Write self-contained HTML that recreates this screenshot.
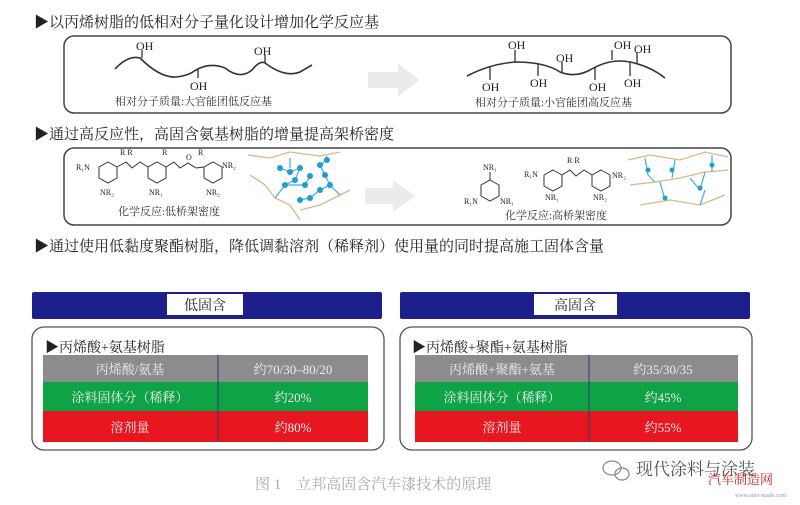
<!DOCTYPE html>
<html><head><meta charset="utf-8"><style>
html,body{margin:0;padding:0;background:#fff;}
svg{display:block}
text{font-family:"Liberation Serif","Noto Serif CJK SC",serif;}
</style></head><body>
<svg width="800" height="505" viewBox="0 0 800 505" xmlns="http://www.w3.org/2000/svg">
<rect width="800" height="505" fill="#fff"/>
<text x="34" y="27" font-size="15" fill="#222">▶以丙烯树脂的低相对分子量化设计增加化学反应基</text>
<text x="34" y="139" font-size="15" fill="#222">▶通过高反应性，高固含氨基树脂的增量提高架桥密度</text>
<text x="34" y="251" font-size="15" fill="#222">▶通过使用低黏度聚酯树脂，降低调黏溶剂（稀释剂）使用量的同时提高施工固体含量</text>

<rect x="64" y="36" width="667" height="77" rx="10" fill="#fff" stroke="#444" stroke-width="1.5"/>
<path d="M115,69 Q128,55 140,58 Q160,78 176,77 Q188,76 196,70 Q210,62 225,68 Q240,80 252,70 Q260,60 265,63 Q285,78 300,72 L312,65" fill="none" stroke="#333" stroke-width="1.6"/>
<line x1="142" y1="58" x2="142" y2="50" stroke="#333" stroke-width="1.3"/>
<line x1="265" y1="63" x2="265" y2="55" stroke="#333" stroke-width="1.3"/>
<line x1="198" y1="69" x2="198" y2="78" stroke="#333" stroke-width="1.3"/>
<g font-size="12" fill="#222">
<text x="136" y="50">OH</text><text x="254" y="55">OH</text><text x="190" y="90">OH</text>
</g>
<text x="115" y="105" font-size="11" fill="#333">相对分子质量:大官能团低反应基</text>
<polygon points="368,72 398,72 398,64 420,80 398,96 398,88 368,88" fill="#ebebeb"/>
<path d="M467,76 Q490,64 515,62 Q545,62 560,72 Q575,78 590,70 Q610,58 630,62 Q650,66 665,78" fill="none" stroke="#333" stroke-width="1.6"/>
<g stroke="#333" stroke-width="1.3">
<line x1="515" y1="62" x2="515" y2="50"/><line x1="562" y1="73" x2="562" y2="62"/><line x1="612" y1="60" x2="612" y2="50"/><line x1="637" y1="63" x2="637" y2="52"/>
<line x1="490" y1="67" x2="490" y2="80"/><line x1="538" y1="63" x2="538" y2="76"/><line x1="595" y1="67" x2="595" y2="80"/><line x1="630" y1="62" x2="630" y2="76"/>
</g>
<g font-size="12" fill="#222">
<text x="508" y="49">OH</text><text x="556" y="62">OH</text><text x="614" y="49">OH</text><text x="634" y="53">OH</text>
<text x="482" y="91">OH</text><text x="530" y="87">OH</text><text x="589" y="91">OH</text><text x="624" y="87">OH</text>
</g>
<text x="475" y="106" font-size="11" fill="#333">相对分子质量:小官能团高反应基</text>

<rect x="64" y="148" width="667" height="77" rx="10" fill="#fff" stroke="#444" stroke-width="1.5"/>
<g fill="none" stroke="#333" stroke-width="1">
<polygon points="108,162 117,167 117,178 108,183 99,178 99,167"/>
<polygon points="157,162 166,167 166,178 157,183 148,178 148,167"/>
<polygon points="213,162 222,167 222,178 213,183 204,178 204,167"/>
<polyline points="117,167 126,162 132,168 140,162 148,167"/>
<polyline points="166,167 174,162 180,168 188,163 196,168 204,167"/>
<polygon points="490,180 499,185 499,196 490,201 481,196 481,185"/>
<polygon points="553,170 562,175 562,186 553,191 544,186 544,175"/>
<polygon points="601,170 610,175 610,186 601,191 592,186 592,175"/>
<polyline points="562,175 570,170 576,176 584,170 592,175"/>
<line x1="490" y1="180" x2="490" y2="172"/>
</g>
<g font-size="8" fill="#222">
<text x="76" y="170">R₁N</text><text x="222" y="168">NR₂</text>
<text x="100" y="195">NR₂</text><text x="149" y="195">NR₁</text><text x="206" y="195">NR₂</text>
<text x="120" y="155">R R</text><text x="162" y="155">R</text><text x="186" y="160">O</text><text x="198" y="155">R</text>
<text x="483" y="170">NR₁</text><text x="464" y="204">R₁N</text><text x="500" y="204">NR₁</text>
<text x="524" y="177">R₁N</text><text x="612" y="178">NR₂</text><text x="545" y="200">NR₁</text><text x="593" y="200">NR₂</text>
<text x="567" y="163">R R</text>
</g>
<text x="118" y="215" font-size="11" fill="#333">化学反应:低桥架密度</text>
<text x="505" y="219" font-size="11" fill="#333">化学反应:高桥架密度</text>
<polygon points="365,188 393,188 393,180 415,196 393,212 393,204 365,204" fill="#ebebeb"/>
<g fill="none" stroke="#d6b88c" stroke-width="1.3">
<path d="M248,155 L270,158 L290,152 L320,156 L340,152"/>
<path d="M250,175 L265,185 L275,198 L290,205 L300,220"/>
<path d="M300,210 L320,205 L340,195 L350,190"/>
<path d="M628,160 L650,155 L680,160 L705,152 L728,157"/>
<path d="M630,185 L655,182 L680,178 L705,172 L728,170"/>
<path d="M640,205 L670,200 L700,205 L725,195"/>
</g>
<g stroke="#3bb0d8" stroke-width="1.2" fill="none">
<path d="M280,168 L290,172 L300,168 L295,180 L285,185 L305,185 L310,176"/>
<path d="M320,165 L325,175 L330,185 L320,190 L310,198 L300,200"/>
<path d="M290,158 L290,168 M327,156 L322,165 M275,198 L285,185 M330,185 L340,195"/>
<path d="M645,158 L648,175 L655,182 M675,160 L672,178 M690,178 L700,190 L705,172 M700,205 L705,190 M660,182 L665,200 M712,155 L712,172"/>
</g>
<g fill="#1e9ed2">
<circle cx="280" cy="168" r="3"/><circle cx="290" cy="172" r="3"/><circle cx="300" cy="168" r="3"/><circle cx="295" cy="180" r="3"/><circle cx="285" cy="185" r="3"/><circle cx="305" cy="185" r="3"/><circle cx="310" cy="176" r="3"/>
<circle cx="320" cy="165" r="3"/><circle cx="325" cy="175" r="3"/><circle cx="330" cy="185" r="3"/><circle cx="320" cy="190" r="3"/><circle cx="310" cy="198" r="3"/><circle cx="300" cy="200" r="3"/><circle cx="327" cy="160" r="3"/>
<circle cx="648" cy="170" r="2.5"/><circle cx="672" cy="170" r="2.5"/><circle cx="700" cy="188" r="2.5"/><circle cx="665" cy="198" r="2.5"/><circle cx="712" cy="165" r="2.5"/>
</g>

<rect x="32" y="292" width="350" height="27" rx="2" fill="#1c1f8c"/>
<rect x="167" y="294" width="76" height="21" fill="#fff"/>
<text x="205" y="310" font-size="14" fill="#222" text-anchor="middle">低固含</text>
<rect x="400" y="292" width="350" height="27" rx="2" fill="#1c1f8c"/>
<rect x="534" y="294" width="83" height="21" fill="#fff"/>
<text x="575" y="310" font-size="14" fill="#222" text-anchor="middle">高固含</text>

<rect x="32" y="327" width="352" height="123" rx="12" fill="#fff" stroke="#555" stroke-width="1.3"/>
<rect x="400" y="327" width="352" height="123" rx="12" fill="#fff" stroke="#555" stroke-width="1.3"/>
<text x="45" y="352" font-size="14" fill="#222">▶丙烯酸+氨基树脂</text>
<text x="412" y="352" font-size="14" fill="#222">▶丙烯酸+聚酯+氨基树脂</text>

<g font-size="13" text-anchor="middle">
<rect x="43" y="355" width="325" height="27" fill="#8c8c8c"/>
<rect x="43" y="382" width="325" height="29" fill="#0ea446"/>
<rect x="43" y="411" width="325" height="31" fill="#e8161e"/>
<line x1="218" y1="355" x2="218" y2="442" stroke="#2a3a70" stroke-width="1"/>
<text x="130" y="374" fill="#eee">丙烯酸/氨基</text><text x="293" y="374" fill="#eee">约70/30–80/20</text>
<text x="130" y="402" fill="#eee">涂料固体分（稀释）</text><text x="293" y="402" fill="#eee">约20%</text>
<text x="130" y="432" fill="#eee">溶剂量</text><text x="293" y="432" fill="#eee">约80%</text>
<rect x="415" y="355" width="323" height="27" fill="#8c8c8c"/>
<rect x="415" y="382" width="323" height="29" fill="#0ea446"/>
<rect x="415" y="411" width="323" height="31" fill="#e8161e"/>
<line x1="589" y1="355" x2="589" y2="442" stroke="#2a3a70" stroke-width="1"/>
<text x="502" y="374" fill="#eee">丙烯酸+聚酯+氨基</text><text x="663" y="374" fill="#eee">约35/30/35</text>
<text x="502" y="402" fill="#eee">涂料固体分（稀释）</text><text x="663" y="402" fill="#eee">约45%</text>
<text x="502" y="432" fill="#eee">溶剂量</text><text x="663" y="432" fill="#eee">约55%</text>
</g>

<text x="255" y="489" font-size="15" fill="#a8a8a8">图 1　立邦高固含汽车漆技术的原理</text>
<g fill="none" stroke="#888" stroke-width="1.2">
<ellipse cx="612" cy="468" rx="9" ry="7"/><ellipse cx="622" cy="474" rx="7" ry="6"/>
</g>
<text x="636" y="475" font-size="17" fill="#555">现代涂料与涂装</text>
<text x="708" y="484" font-size="13" fill="#c8202a">汽车制造网</text>
<text x="735" y="497" font-size="6" fill="#7a9fc8">www.auto-made.com</text>
</svg>
</body></html>
